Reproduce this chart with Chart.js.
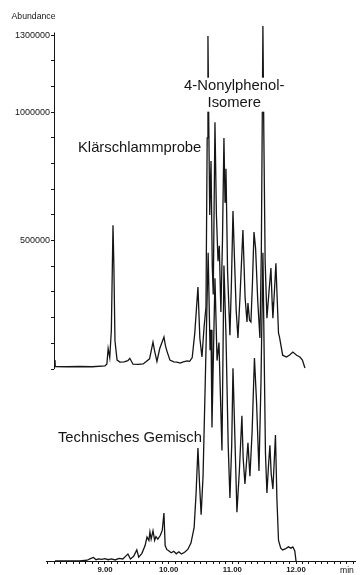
<!DOCTYPE html>
<html lang="de">
<head>
<meta charset="utf-8">
<title>4-Nonylphenol-Isomere – Klärschlammprobe und technisches Gemisch</title>
<script src="https://cdn.jsdelivr.net/npm/chart.js@4.4.1/dist/chart.umd.min.js"></script>
<style>
  html, body { margin: 0; padding: 0; background: #fff; }
  canvas { display: block; }
</style>
</head>
<body>
<canvas id="gc" width="361" height="575"></canvas>
<script>
// Sewage sludge sample: retention time (min) and abundance
const sludgeTime = [
  8.215, 8.22, 8.40, 8.60, 8.80, 9.00, 9.03, 9.05, 9.075, 9.10,
  9.126, 9.14, 9.157, 9.19, 9.235, 9.30, 9.36, 9.39, 9.44, 9.52,
  9.60, 9.70, 9.754, 9.78, 9.816, 9.86, 9.926, 9.95, 9.973, 10.02,
  10.08, 10.13, 10.18, 10.23, 10.29, 10.33, 10.37, 10.41, 10.46, 10.49,
  10.523, 10.555, 10.586, 10.605, 10.617, 10.63, 10.645, 10.665, 10.685, 10.70,
  10.727, 10.75, 10.775, 10.795, 10.82, 10.845, 10.868, 10.885, 10.90, 10.925,
  10.962, 10.985, 11.01, 11.035, 11.06, 11.088, 11.12, 11.166, 11.20, 11.23,
  11.245, 11.27, 11.292, 11.315, 11.34, 11.365, 11.40, 11.433, 11.455, 11.48,
  11.495, 11.515, 11.543, 11.575, 11.606, 11.625, 11.637, 11.66, 11.684, 11.70,
  11.725, 11.74, 11.79, 11.85, 11.90, 11.95, 12.01, 12.06, 12.10, 12.14
];
const sludgeAbundance = [
  35000, 10000, 9000, 10000, 9000, 12000, 20000, 80000, 45000, 150000,
  560000, 400000, 110000, 35000, 27000, 28000, 33000, 42000, 19000, 18000,
  20000, 40000, 105000, 70000, 30000, 80000, 125000, 90000, 70000, 35000,
  28000, 27000, 23000, 28000, 32000, 30000, 45000, 140000, 319000, 120000,
  47000, 160000, 241000, 900000, 1296000, 950000, 600000, 810000, 400000, 290000,
  961000, 600000, 420000, 480000, 222000, 500000, 899000, 650000, 780000, 380000,
  132000, 330000, 615000, 420000, 230000, 121000, 280000, 541000, 280000, 183000,
  257000, 190000, 183000, 330000, 533000, 470000, 260000, 121000, 450000, 1335000,
  900000, 420000, 198000, 300000, 393000, 260000, 198000, 300000, 412000, 300000,
  140000, 125000, 54000, 47000, 55000, 66000, 54000, 47000, 35000, 4000
];

// Technical nonylphenol mixture: retention time (min) and abundance
const mixTime = [
  8.215, 8.60, 8.72, 8.78, 8.82, 8.86, 8.90, 8.95, 9.00, 9.05,
  9.10, 9.16, 9.22, 9.28, 9.33, 9.36, 9.40, 9.45, 9.50, 9.53,
  9.58, 9.63, 9.66, 9.69, 9.706, 9.725, 9.754, 9.78, 9.80, 9.83,
  9.87, 9.90, 9.926, 9.945, 9.97, 10.00, 10.04, 10.08, 10.12, 10.16,
  10.20, 10.25, 10.30, 10.35, 10.40, 10.43, 10.46, 10.485, 10.51, 10.54,
  10.575, 10.62, 10.65, 10.665, 10.68, 10.727, 10.76, 10.79, 10.837, 10.868,
  10.90, 10.935, 10.962, 10.99, 11.01, 11.04, 11.072, 11.11, 11.15, 11.17,
  11.198, 11.245, 11.276, 11.31, 11.347, 11.38, 11.418, 11.45, 11.48, 11.50,
  11.52, 11.543, 11.57, 11.59, 11.61, 11.637, 11.66, 11.677, 11.70, 11.725,
  11.76, 11.79, 11.83, 11.88, 11.92, 11.95, 11.98, 12.00
];
const mixAbundance = [
  0, 0, 3000, 10000, 14000, 5000, 8000, 6000, 9000, 5000,
  8000, 4000, 10000, 8000, 20000, 27000, 8000, 18000, 43000, 15000,
  30000, 60000, 93000, 80000, 113000, 85000, 117000, 80000, 95000, 85000,
  100000, 120000, 187000, 60000, 45000, 40000, 32000, 38000, 28000, 36000,
  27000, 34000, 45000, 70000, 130000, 260000, 440000, 300000, 180000, 330000,
  700000, 1200000, 820000, 900000, 520000, 1100000, 780000, 850000, 430000, 1150000,
  880000, 450000, 245000, 450000, 750000, 480000, 190000, 350000, 565000, 400000,
  300000, 460000, 330000, 500000, 790000, 620000, 350000, 700000, 1200000, 800000,
  420000, 265000, 380000, 450000, 340000, 280000, 400000, 490000, 240000, 80000,
  50000, 43000, 47000, 55000, 50000, 55000, 40000, 0
];

// Axis ticks and labels
const yMinorStep = 100000;
const yAxisTop = 1310000;
const yLabelValues = [500000, 1000000, 1300000];
const xMinorStep = 0.1;
const xLabelValues = [9, 10, 11, 12];
const xUnitLabel = 'min';
const xUnitAt = 12.8;
const yAxisAt = 8.2;

const INK = '#151515';
const FONT = '"Liberation Sans", Arial, Helvetica, sans-serif';

const captions = [
  { lines: ['Klärschlammprobe'], x: 8.576, y: 860000, axis: 'y', align: 'left' },
  { lines: ['4-Nonylphenol-', 'Isomere'], x: 11.03, y: 1068000, axis: 'y', align: 'center' },
  { lines: ['Technisches Gemisch'], x: 8.262, y: 479000, axis: 'y2', align: 'left' }
];

const toPoints = (times, values) => times.map((t, i) => ({ x: t, y: values[i] }));

// Abundance axis: line over the sample trace only, value labels and caption
const axisFrame = {
  id: 'axisFrame',
  beforeDatasetsDraw(chart) {
    const { ctx, scales: { x, y } } = chart;
    const ax = Math.round(x.getPixelForValue(yAxisAt)) + 0.5;
    const yTop = y.getPixelForValue(yAxisTop);
    const tickLen = y.options.grid.tickLength;
    ctx.save();
    ctx.strokeStyle = INK;
    ctx.lineWidth = 1;
    ctx.beginPath();
    ctx.moveTo(ax, y.getPixelForValue(0));
    ctx.lineTo(ax, yTop);
    ctx.stroke();

    ctx.fillStyle = INK;
    ctx.textAlign = 'right';
    ctx.textBaseline = 'middle';
    ctx.font = '9px ' + FONT;
    yLabelValues.forEach(v => ctx.fillText(String(v), ax - tickLen - 1.5, y.getPixelForValue(v)));

    ctx.font = '8.7px ' + FONT;
    ctx.fillText('Abundance', ax + 1, yTop - 16);
    ctx.restore();
  }
};

// Trace captions on white boxes
const traceCaptions = {
  id: 'traceCaptions',
  afterDatasetsDraw(chart) {
    const { ctx, scales } = chart;
    const lineH = 17;
    ctx.save();
    ctx.font = '14.8px ' + FONT;
    ctx.textBaseline = 'middle';
    captions.forEach(c => {
      const px = scales.x.getPixelForValue(c.x);
      const py = scales[c.axis].getPixelForValue(c.y);
      const w = Math.max(...c.lines.map(l => ctx.measureText(l).width));
      const top = py - lineH * c.lines.length / 2;
      const left = c.align === 'center' ? px - w / 2 : px;
      ctx.fillStyle = '#fff';
      ctx.fillRect(left - 1, top, w + 2, lineH * c.lines.length);
      ctx.fillStyle = INK;
      ctx.textAlign = c.align;
      c.lines.forEach((l, i) => ctx.fillText(l, px, top + lineH * (i + 0.5)));
    });
    ctx.restore();
  }
};

new Chart(document.getElementById('gc'), {
  type: 'line',
  data: {
    datasets: [
      {
        label: 'Klärschlammprobe',
        data: toPoints(sludgeTime, sludgeAbundance),
        yAxisID: 'y',
        borderColor: INK,
        borderWidth: 1.3,
        pointRadius: 0,
        tension: 0,
        fill: false
      },
      {
        label: 'Technisches Gemisch',
        data: toPoints(mixTime, mixAbundance),
        yAxisID: 'y2',
        borderColor: INK,
        borderWidth: 1.3,
        pointRadius: 0,
        tension: 0,
        fill: false
      }
    ]
  },
  options: {
    responsive: false,
    animation: false,
    devicePixelRatio: 1,
    events: [],
    layout: { padding: { top: 14, left: 46, right: 6, bottom: 0 } },
    plugins: { legend: { display: false }, tooltip: { enabled: false } },
    scales: {
      x: {
        type: 'linear',
        position: 'bottom',
        min: 8.074,
        max: 12.926,
        afterBuildTicks(scale) {
          const ticks = [];
          for (let k = Math.ceil(scale.min / xMinorStep); k * xMinorStep <= scale.max; k++) {
            ticks.push({ value: Math.round(k * xMinorStep * 10) / 10 });
          }
          scale.ticks = ticks;
        },
        afterFit(scale) { scale.height = 14; },
        grid: { drawOnChartArea: false, tickLength: 3, color: INK, lineWidth: 1 },
        border: { color: INK, width: 1 },
        ticks: {
          autoSkip: false,
          maxRotation: 0,
          padding: 1,
          color: INK,
          font: (ctx) => (ctx.tick && ctx.tick.value === xUnitAt)
            ? { family: FONT, size: 8.6, weight: 'normal' }
            : { family: FONT, size: 7.8, weight: 'bold' },
          callback: (value) => {
            if (xLabelValues.includes(value)) return value.toFixed(2);
            if (value === xUnitAt) return xUnitLabel;
            return '';
          }
        }
      },
      y: {
        type: 'linear',
        position: { x: yAxisAt },
        min: -747000,
        max: 1382000,
        afterBuildTicks(scale) {
          const ticks = [];
          for (let v = 0; v <= yAxisTop; v += yMinorStep) ticks.push({ value: v });
          scale.ticks = ticks;
        },
        grid: { drawOnChartArea: false, tickLength: 3, color: INK, lineWidth: 1 },
        border: { display: false },
        ticks: { display: false }
      },
      y2: {
        type: 'linear',
        display: false,
        min: 0,
        max: 2129000
      }
    }
  },
  plugins: [axisFrame, traceCaptions]
});
</script>
</body>
</html>
